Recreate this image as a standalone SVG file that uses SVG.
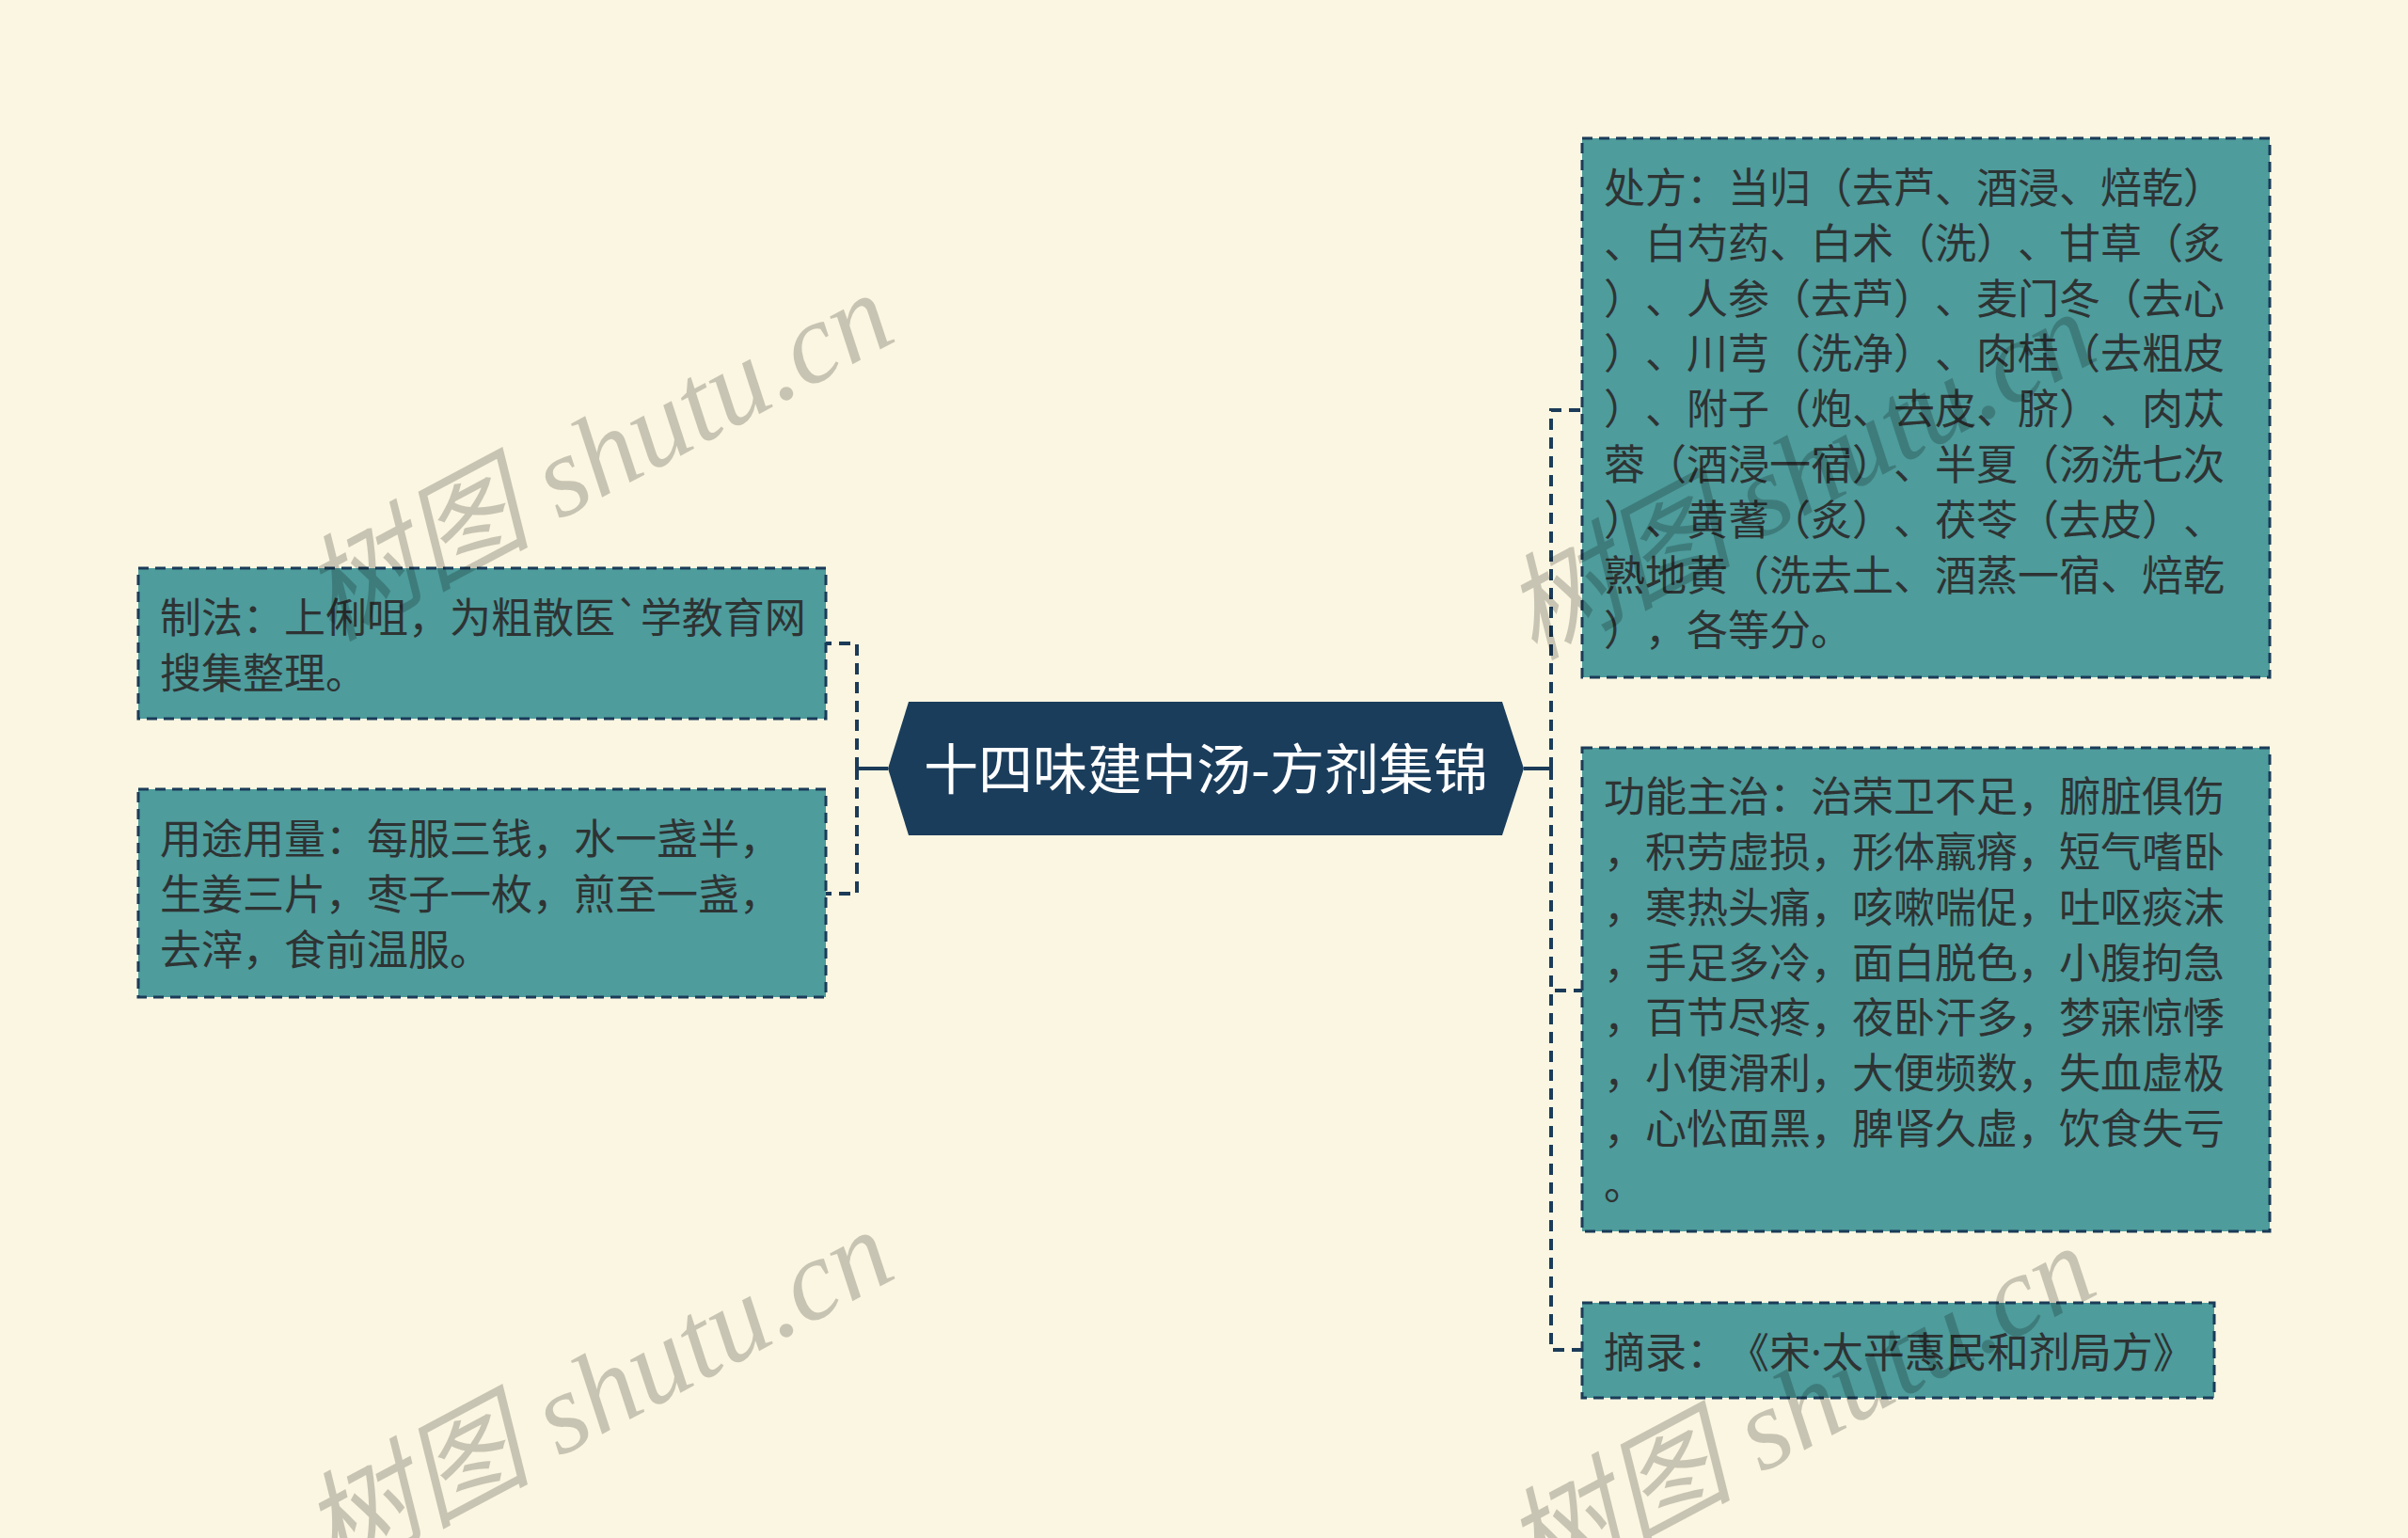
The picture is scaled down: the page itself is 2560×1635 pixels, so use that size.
<svg xmlns="http://www.w3.org/2000/svg" width="2560" height="1635" viewBox="0 0 2560 1635">
<style>
.bg{fill:#FBF6E1}
.box{fill:#4E9C9C;stroke:#1B3B58;stroke-width:3;stroke-dasharray:11 7}
.t{font-family:"Noto Sans CJK SC","Noto Sans",sans-serif;font-size:44px;fill:#2E3333;text-spacing-trim:space-all;font-feature-settings:"chws" 0,"halt" 0;font-kerning:none}
.ct{font-family:"Noto Sans CJK SC","Noto Sans",sans-serif;font-size:58px;fill:#FFFFFF}
.dot{font-family:"Noto Sans",sans-serif}
.conn{fill:none;stroke:#1B3B58;stroke-width:4;stroke-dasharray:12 8}
.solid{fill:none;stroke:#1B3B58;stroke-width:4}
.wm{font-family:"Liberation Serif","Noto Sans CJK SC",serif;font-style:italic;font-size:122px;fill:#000;opacity:0.2}
</style>
<rect class="bg" x="0" y="0" width="2560" height="1635"/>
<g id="connectors">
<path class="solid" d="M944,817 H911 M911,805 V829"/>
<path class="conn" d="M911,817 V684 H878"/>
<path class="conn" d="M911,817 V950 H878"/>
<path class="solid" d="M1620,817 H1649 M1649,805 V829"/>
<path class="conn" d="M1649,817 V436 H1682"/>
<path class="conn" d="M1649,817 V1053 H1682"/>
<path class="conn" d="M1649,817 V1435 H1682"/>
</g>
<g id="center">
<polygon points="944,817 966,746 1597,746 1620,817 1597,888 966,888" fill="#1B3D5C"/>
<text class="ct" x="1282" y="839" text-anchor="middle">十四味建中汤-方剂集锦</text>
</g>
<g id="node-zhifa">
<rect class="box" x="147" y="604" width="731" height="160"/>
<text class="t" x="170" y="673">制法：上俐咀，为粗散医`学教育网</text>
<text class="t" x="170" y="732">搜集整理。</text>
</g>
<g id="node-yongtu">
<rect class="box" x="147" y="839" width="731" height="221"/>
<text class="t" x="170" y="908">用途用量：每服三钱，水一盏半，</text>
<text class="t" x="170" y="967">生姜三片，枣子一枚，煎至一盏，</text>
<text class="t" x="170" y="1026">去滓，食前温服。</text>
</g>
<g id="node-chufang">
<rect class="box" x="1682" y="147" width="731" height="573"/>
<text class="t" x="1705" y="216">处方：当归（去芦、酒浸、焙乾）</text>
<text class="t" x="1705" y="275">、白芍药、白术（洗）、甘草（炙</text>
<text class="t" x="1705" y="334">）、人参（去芦）、麦门冬（去心</text>
<text class="t" x="1705" y="392">）、川芎（洗净）、肉桂（去粗皮</text>
<text class="t" x="1705" y="451">）、附子（炮、去皮、脐）、肉苁</text>
<text class="t" x="1705" y="510">蓉（酒浸一宿）、半夏（汤洗七次</text>
<text class="t" x="1705" y="569">）、黄蓍（炙）、茯苓（去皮）、</text>
<text class="t" x="1705" y="628">熟地黄（洗去土、酒蒸一宿、焙乾</text>
<text class="t" x="1705" y="686">），各等分。</text>
</g>
<g id="node-gongneng">
<rect class="box" x="1682" y="795" width="731" height="514"/>
<text class="t" x="1705" y="863">功能主治：治荣卫不足，腑脏俱伤</text>
<text class="t" x="1705" y="922">，积劳虚损，形体羸瘠，短气嗜卧</text>
<text class="t" x="1705" y="981">，寒热头痛，咳嗽喘促，吐呕痰沫</text>
<text class="t" x="1705" y="1040">，手足多冷，面白脱色，小腹拘急</text>
<text class="t" x="1705" y="1098">，百节尽疼，夜卧汗多，梦寐惊悸</text>
<text class="t" x="1705" y="1157">，小便滑利，大便频数，失血虚极</text>
<text class="t" x="1705" y="1216">，心忪面黑，脾肾久虚，饮食失亏</text>
<text class="t" x="1705" y="1275">。</text>
</g>
<g id="node-zhailu">
<rect class="box" x="1682" y="1385" width="672" height="101"/>
<text class="t" x="1705" y="1454">摘录：《宋<tspan class="dot">·</tspan>太平惠民和剂局方》</text>
</g>
<g id="watermarks">
<text class="wm" transform="translate(352,682) rotate(-28)">树图 shutu.cn</text>
<text class="wm" transform="translate(352,1678) rotate(-28)">树图 shutu.cn</text>
<text class="wm" transform="translate(1630,702) rotate(-28)">树图 shutu.cn</text>
<text class="wm" transform="translate(1630,1695) rotate(-28)">树图 shutu.cn</text>
</g>
</svg>
